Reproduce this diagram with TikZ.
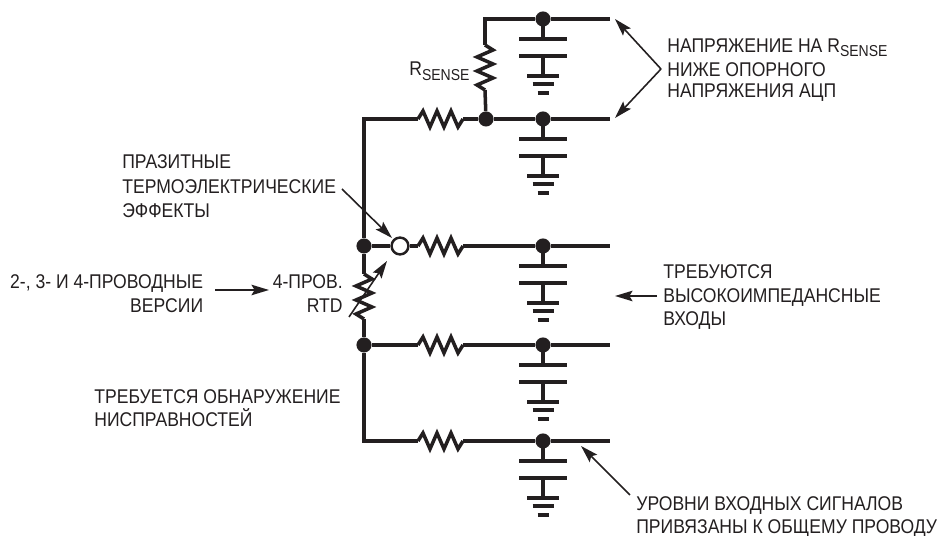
\documentclass[tikz,border=0pt]{standalone}
\usepackage{fontspec}
\setmainfont[FakeStretch=0.885]{Liberation Sans}
\usetikzlibrary{arrows.meta}
\definecolor{inkblack}{RGB}{35,31,32}
\newcommand{\rsense}{R\raisebox{-2.4pt}{\fontsize{9}{10}\selectfont SENSE}}
\tikzset{
  wire/.style={draw=inkblack,line width=2pt,line join=miter},
  pointer/.style={draw=inkblack,line width=0.9pt,-{Stealth[length=10pt,width=6pt,inset=1.8pt]}},
  junction/.style={circle,fill=inkblack,inner sep=0pt,minimum size=8.6pt},
  opendot/.style={circle,draw=inkblack,fill=white,line width=1.4pt,inner sep=0pt,minimum size=9.6pt},
  label/.style={text=inkblack,font=\fontsize{11.3}{13.9}\selectfont,inner sep=0pt},
  resistor/.pic={
    \coordinate (-a) at (0,0);
    \coordinate (-b) at (45,0);
    \draw[wire] (0,0) -- (5,-8) -- (12,8) -- (19,-8) -- (26,8) -- (33,-8) -- (40,8) -- (45,0);
  },
  capground/.pic={
    \draw[wire] (0,0) -- (0,20);
    \draw[inkblack,line width=2.2pt] (-24,20) -- (24,20);
    \draw[inkblack,line width=2.2pt] (-24,37) -- (24,37);
    \draw[wire] (0,37) -- (0,57);
    \draw[inkblack,line width=2.2pt] (-16,57) -- (16,57);
    \draw[inkblack,line width=2.2pt] (-10.5,65) -- (10.5,65);
    \draw[inkblack,line width=2.2pt] (-5.5,74) -- (5.5,74);
  }
}

\begin{document}
\begin{tikzpicture}[x=0.02cm,y=-0.02cm]
\useasboundingbox (0,0) rectangle (938,536);

% rails with capacitors
\foreach \name/\ypos in {top/19,sense/119,mid/246,low/345,bot/441}{
  \coordinate (\name end) at (610,\ypos);
  \pic at (543,\ypos) {capground};
  \node[junction] (\name cap) at (543,\ypos) {};
  \draw[wire] (\name cap) -- (\name end);
}

% left vertical line
\coordinate (corner) at (364,119);
\coordinate (cornerbot) at (364,441);
\coordinate (cornertop) at (485,19);
\node[junction] (leftmid) at (364,246) {};
\node[junction] (leftlow) at (364,345) {};
\node[junction] (sensenode) at (486,119) {};
\node[opendot] (thermo) at (400,246) {};

% series resistors
\pic (rsense) at (418,119) {resistor};
\pic (rmid) at (418,246) {resistor};
\pic (rlow) at (418,345) {resistor};
\pic (rbot) at (418,441) {resistor};
\pic[rotate=-90] (rshunt) at (485,45) {resistor};
\pic[rotate=-90] (rrtd) at (364,274) {resistor};

\draw[wire] (rsense-a) -- (corner) -- (leftmid);
\draw[wire] (rsense-b) -- (sensenode) -- (sensecap);
\draw[wire] (sensenode) -- (rshunt-b);
\draw[wire] (rshunt-a) -- (cornertop) -- (topcap);
\draw[wire] (leftmid) -- (thermo) -- (rmid-a);
\draw[wire] (rmid-b) -- (midcap);
\draw[wire] (leftmid) -- (rrtd-a);
\draw[wire] (rrtd-b) -- (leftlow) -- (rlow-a);
\draw[wire] (rlow-b) -- (lowcap);
\draw[wire] (leftlow) -- (cornerbot) -- (rbot-a);
\draw[wire] (rbot-b) -- (botcap);

% texts
\node[label,anchor=base west] (rsenselabel) at (409,76) {\rsense};
\node[label,anchor=north west,align=left] (adcnote) at (667,38.5) {НАПРЯЖЕНИЕ НА \rsense\\[-0.3pt]НИЖЕ ОПОРНОГО\\[-1.9pt]НАПРЯЖЕНИЯ АЦП};
\node[label,anchor=north west,align=left] (thermonote) at (122,154.5) {ПРАЗИТНЫЕ\\ТЕРМОЭЛЕКТРИЧЕСКИЕ\\ЭФФЕКТЫ};
\node[label,anchor=north east,align=right] (versions) at (203.5,274) {2-, 3- И 4-ПРОВОДНЫЕ\\ВЕРСИИ};
\node[label,anchor=north east,align=right] (rtdlabel) at (343,274) {4-ПРОВ.\\RTD};
\node[label,anchor=north west,align=left] (faultnote) at (94,389.5) {ТРЕБУЕТСЯ ОБНАРУЖЕНИЕ\\[-0.8pt]НИСПРАВНОСТЕЙ};
\node[label,anchor=north west,align=left] (hinote) at (663,264.5) {ТРЕБУЮТСЯ\\[-0.3pt]ВЫСОКОИМПЕДАНСНЫЕ\\[-0.8pt]ВХОДЫ};
\node[label,anchor=north west,align=left] (levelnote) at (636,496.5) {УРОВНИ ВХОДНЫХ СИГНАЛОВ\\[-1.1pt]ПРИВЯЗАНЫ К ОБЩЕМУ ПРОВОДУ};

% pointers
\coordinate (apex) at (661,69);
\coordinate (tiptop) at (615,19);
\coordinate (tipsense) at (615,118);
\coordinate (thermofrom) at (342,189);
\coordinate (thermotip) at (392,238);
\coordinate (versfrom) at (215,290);
\coordinate (verstip) at (269,290);
\coordinate (rtdfrom) at (349,317);
\coordinate (rtdtip) at (387,261);
\coordinate (hifrom) at (657,296);
\coordinate (hitip) at (615,296);
\coordinate (levelfrom) at (630,495);
\coordinate (leveltip) at (581,446);
\draw[pointer] (apex) -- (tiptop);
\draw[pointer] (apex) -- (tipsense);
\draw[pointer] (thermofrom) -- (thermotip);
\draw[pointer] (versfrom) -- (verstip);
\draw[pointer] (rtdfrom) -- (rtdtip);
\draw[pointer] (hifrom) -- (hitip);
\draw[pointer] (levelfrom) -- (leveltip);

\end{tikzpicture}
\end{document}
